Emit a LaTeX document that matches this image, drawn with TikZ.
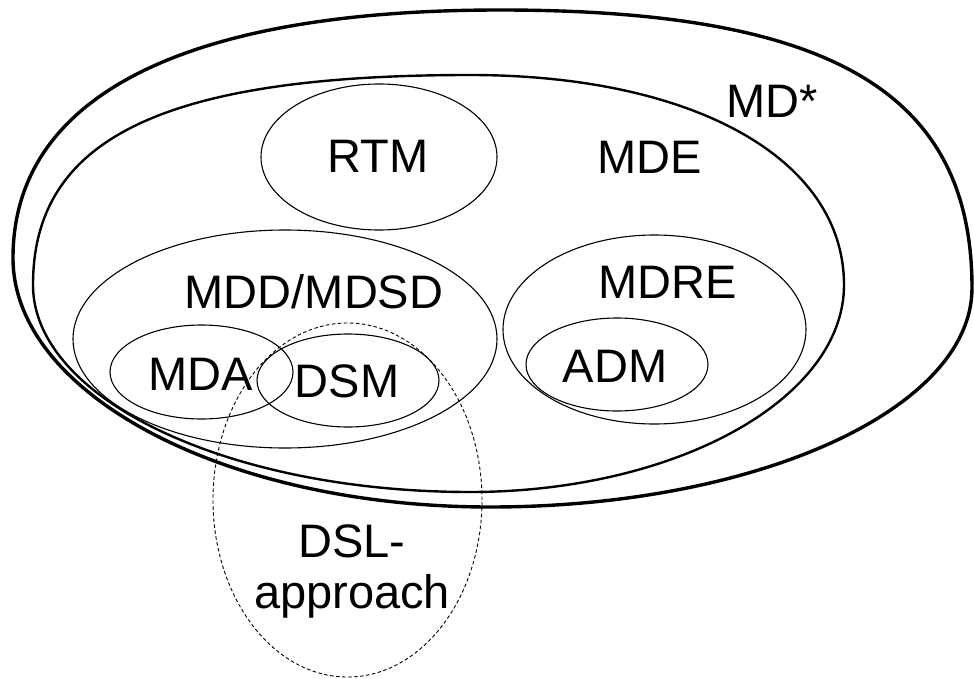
\documentclass[tikz,border=0pt]{standalone}
\usepackage{fontspec}
\setmainfont{Liberation Sans}
\begin{document}
\begin{tikzpicture}[x=1pt,y=-1pt,
  lbl/.style={anchor=base,inner sep=0pt,font=\fontsize{47}{56}\selectfont},
  outerline/.style={line width=3.4pt},
  mdeline/.style={line width=2.4pt},
  setline/.style={line width=1.1pt},
  dslline/.style={line width=0.9pt,dash pattern=on 3.5pt off 2.5pt}]
\useasboundingbox (0,0) rectangle (974,679);

% MD* outline: four quarter arcs, flattened along the top
\draw[outerline] (13,258) .. controls (13,97) and (183,10) .. (500,10)
  .. controls (832,10) and (972,93) .. (972,288)
  .. controls (972,409) and (757,507) .. (490,507)
  .. controls (227,507) and (13,395) .. (13,258) -- cycle;

% MDE outline
\draw[mdeline] (33,285) .. controls (33,138) and (164,75) .. (470,75)
  .. controls (694,75) and (844,159) .. (844,285)
  .. controls (844,399) and (676,492) .. (470,492)
  .. controls (229,492) and (33,399) .. (33,285) -- cycle;

% inner sets
\draw[setline] (379,157) ellipse [x radius=118pt, y radius=73pt];   % RTM
\draw[setline] (285,339) ellipse [x radius=212pt, y radius=109pt];  % MDD/MDSD
\draw[setline] (201.5,372) ellipse [x radius=91.5pt, y radius=47pt]; % MDA
\draw[setline] (348,380.5) ellipse [x radius=91pt, y radius=46.5pt]; % DSM
\draw[setline] (654.5,329.5) ellipse [x radius=151.5pt, y radius=94.5pt]; % MDRE
\draw[setline] (617,364.5) ellipse [x radius=91pt, y radius=46.5pt]; % ADM
\draw[dslline] (347.5,500) ellipse [x radius=134.5pt, y radius=177pt]; % DSL approach

% labels
\node[lbl] (mdstar) at (772,118) {MD*};
\node[lbl] (mde) at (650,174) {MDE};
\node[lbl] (rtm) at (378,173) {RTM};
\node[lbl] (mdd) at (314,308) {MDD/MDSD};
\node[lbl] (mdre) at (668,298) {MDRE};
\node[lbl] (mda) at (201,390) {MDA};
\node[lbl] (dsm) at (347,397) {DSM};
\node[lbl] (adm) at (615,382) {ADM};
\node[lbl] (dsl) at (352,557) {DSL-};
\node[lbl] (appr) at (352,608) {approach};
\end{tikzpicture}
\end{document}
